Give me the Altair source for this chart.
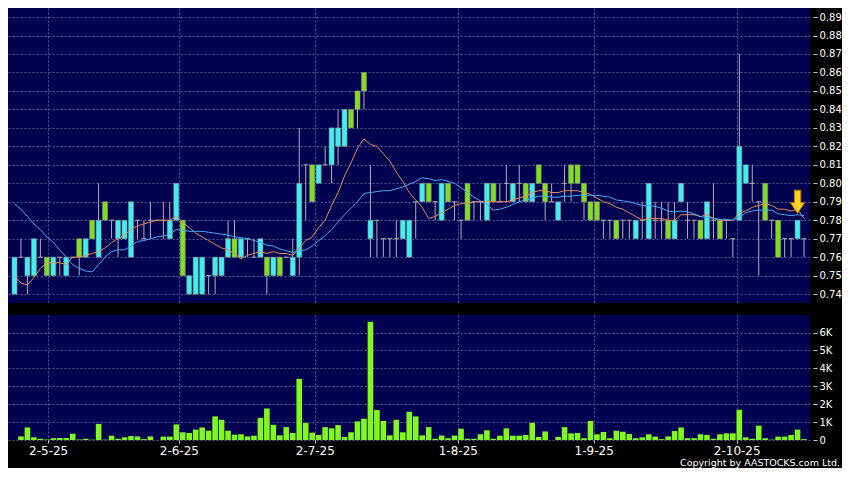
import altair as alt
import pandas as pd

# ---------------- data ----------------
opens = [
    0.74, 0.76, 0.75, 0.75, 0.76, 0.76, 0.75, 0.76, 0.75, 0.76,
    0.77, 0.76, 0.78, 0.76, 0.79, 0.78, 0.77, 0.77, 0.76, 0.78,
    0.77, 0.78, 0.78, 0.78, 0.77, 0.78, 0.78, 0.74, 0.74, 0.74,
    0.75, 0.75, 0.75, 0.76, 0.77, 0.76, 0.77, 0.76, 0.76, 0.76,
    0.75, 0.76, 0.76, 0.75, 0.76, 0.81, 0.81, 0.80, 0.81, 0.81,
    0.82, 0.82, 0.84, 0.85, 0.86, 0.77, 0.78, 0.77, 0.77, 0.77,
    0.77, 0.76, 0.79, 0.79, 0.80, 0.79, 0.78, 0.80, 0.79, 0.78,
    0.80, 0.79, 0.79, 0.78, 0.80, 0.79, 0.80, 0.79, 0.80, 0.80,
    0.79, 0.81, 0.80, 0.79, 0.78, 0.80, 0.81, 0.81, 0.80, 0.79,
    0.79, 0.78, 0.78, 0.78, 0.78, 0.78, 0.77, 0.78, 0.77, 0.78,
    0.78, 0.78, 0.77, 0.79, 0.78, 0.78, 0.78, 0.77, 0.78, 0.78,
    0.78, 0.77, 0.78, 0.80, 0.80, 0.79, 0.80, 0.78, 0.78, 0.77,
    0.77, 0.77, 0.77,
]
highs = [
    0.76, 0.77, 0.76, 0.77, 0.77, 0.76, 0.76, 0.76, 0.76, 0.76,
    0.77, 0.77, 0.78, 0.80, 0.79, 0.78, 0.78, 0.78, 0.79, 0.78,
    0.78, 0.79, 0.78, 0.79, 0.79, 0.80, 0.78, 0.75, 0.76, 0.76,
    0.75, 0.76, 0.76, 0.78, 0.78, 0.77, 0.77, 0.77, 0.77, 0.76,
    0.76, 0.76, 0.76, 0.77, 0.83, 0.81, 0.81, 0.81, 0.82, 0.83,
    0.84, 0.84, 0.84, 0.85, 0.86, 0.81, 0.78, 0.77, 0.77, 0.78,
    0.78, 0.78, 0.79, 0.80, 0.80, 0.79, 0.80, 0.80, 0.79, 0.78,
    0.80, 0.79, 0.79, 0.80, 0.80, 0.80, 0.81, 0.80, 0.81, 0.80,
    0.80, 0.81, 0.80, 0.80, 0.79, 0.81, 0.81, 0.81, 0.80, 0.79,
    0.79, 0.78, 0.78, 0.78, 0.78, 0.78, 0.78, 0.79, 0.80, 0.79,
    0.79, 0.79, 0.79, 0.80, 0.79, 0.78, 0.78, 0.79, 0.80, 0.78,
    0.78, 0.77, 0.87, 0.81, 0.81, 0.79, 0.80, 0.78, 0.78, 0.77,
    0.77, 0.78, 0.77,
]
lows = [
    0.74, 0.76, 0.74, 0.75, 0.76, 0.75, 0.75, 0.75, 0.75, 0.76,
    0.75, 0.76, 0.77, 0.76, 0.78, 0.77, 0.76, 0.77, 0.76, 0.77,
    0.77, 0.77, 0.78, 0.77, 0.77, 0.78, 0.75, 0.74, 0.74, 0.74,
    0.74, 0.74, 0.75, 0.76, 0.76, 0.76, 0.76, 0.76, 0.76, 0.74,
    0.75, 0.75, 0.76, 0.75, 0.75, 0.78, 0.79, 0.80, 0.81, 0.80,
    0.81, 0.82, 0.83, 0.83, 0.84, 0.76, 0.76, 0.76, 0.76, 0.76,
    0.77, 0.76, 0.77, 0.79, 0.79, 0.78, 0.78, 0.79, 0.78, 0.77,
    0.78, 0.78, 0.78, 0.78, 0.79, 0.79, 0.79, 0.79, 0.79, 0.79,
    0.79, 0.80, 0.78, 0.79, 0.78, 0.79, 0.79, 0.80, 0.78, 0.78,
    0.78, 0.77, 0.77, 0.77, 0.77, 0.77, 0.77, 0.77, 0.77, 0.77,
    0.77, 0.77, 0.77, 0.79, 0.77, 0.77, 0.77, 0.77, 0.77, 0.77,
    0.77, 0.76, 0.78, 0.80, 0.79, 0.75, 0.78, 0.77, 0.76, 0.76,
    0.76, 0.77, 0.76,
]
closes = [
    0.76, 0.76, 0.76, 0.77, 0.76, 0.75, 0.76, 0.76, 0.76, 0.76,
    0.76, 0.77, 0.77, 0.78, 0.78, 0.78, 0.78, 0.78, 0.79, 0.78,
    0.77, 0.78, 0.78, 0.78, 0.78, 0.80, 0.75, 0.75, 0.76, 0.76,
    0.75, 0.76, 0.76, 0.77, 0.76, 0.77, 0.77, 0.76, 0.77, 0.75,
    0.76, 0.75, 0.76, 0.76, 0.80, 0.81, 0.79, 0.81, 0.81, 0.83,
    0.83, 0.84, 0.83, 0.84, 0.85, 0.78, 0.78, 0.77, 0.77, 0.77,
    0.78, 0.78, 0.79, 0.80, 0.79, 0.79, 0.80, 0.79, 0.79, 0.78,
    0.78, 0.79, 0.79, 0.80, 0.79, 0.79, 0.80, 0.80, 0.80, 0.79,
    0.80, 0.80, 0.79, 0.79, 0.79, 0.80, 0.80, 0.80, 0.79, 0.78,
    0.78, 0.78, 0.78, 0.77, 0.78, 0.78, 0.78, 0.78, 0.80, 0.78,
    0.78, 0.77, 0.78, 0.80, 0.78, 0.78, 0.77, 0.79, 0.78, 0.77,
    0.78, 0.77, 0.82, 0.81, 0.80, 0.79, 0.78, 0.78, 0.76, 0.77,
    0.77, 0.78, 0.77,
]
volumes_k = [
    0.00, 0.20, 0.70, 0.15, 0.07, 0.03, 0.10, 0.11, 0.11, 0.35,
    0.03, 0.07, 0.02, 0.90, 0.02, 0.24, 0.07, 0.15, 0.22, 0.20,
    0.05, 0.20, 0.00, 0.19, 0.19, 0.87, 0.43, 0.39, 0.58, 0.70,
    0.52, 1.32, 1.13, 0.52, 0.30, 0.32, 0.20, 0.24, 1.24, 1.76,
    0.85, 0.26, 0.72, 0.39, 3.41, 0.95, 0.41, 0.28, 0.72, 0.65,
    0.83, 0.17, 0.43, 1.04, 1.19, 6.60, 1.67, 1.06, 0.26, 1.13,
    0.43, 1.58, 1.32, 0.26, 0.72, 0.07, 0.25, 0.10, 0.25, 0.63,
    0.07, 0.07, 0.32, 0.54, 0.07, 0.24, 0.65, 0.24, 0.24, 0.28,
    0.96, 0.17, 0.48, 0.00, 0.17, 0.72, 0.37, 0.39, 0.10, 1.06,
    0.32, 0.45, 0.10, 0.52, 0.46, 0.33, 0.10, 0.15, 0.32, 0.19,
    0.05, 0.20, 0.50, 0.70, 0.10, 0.10, 0.32, 0.28, 0.07, 0.32,
    0.37, 0.37, 1.69, 0.15, 0.07, 0.80, 0.10, 0.02, 0.19, 0.19,
    0.28, 0.58, 0.05,
]
# moving-average values at the left edge (window not complete)
ma10_head = [0.750, 0.746, 0.745, 0.749, 0.754, 0.757, 0.757, 0.757, 0.756]
ma20_head = [0.789, 0.786, 0.782, 0.778, 0.775, 0.771, 0.768, 0.764, 0.760, 0.756,
             0.754, 0.7525, 0.752, 0.756, 0.760, 0.763, 0.764, 0.764, 0.766]

tick_pos = [5.2, 25.4, 46.4, 68.5, 89.5, 111.6]
tick_labels = ["2-5-25", "2-6-25", "2-7-25", "1-8-25", "1-9-25", "2-10-25"]
price_ticks = [0.74, 0.75, 0.76, 0.77, 0.78, 0.79, 0.80, 0.81, 0.82,
               0.83, 0.84, 0.85, 0.86, 0.87, 0.88, 0.89]
vol_ticks = [0, 1, 2, 3, 4, 5, 6]
signal_idx = [121]
signal_price = [0.790]

# ---------------- tables ----------------
n = len(closes)
assert all(len(a) == n for a in (opens, highs, lows, volumes_k))

cs = pd.Series(closes, dtype=float)
ma10 = cs.rolling(10).mean().tolist()
ma20 = cs.rolling(20).mean().tolist()
ma10[:len(ma10_head)] = ma10_head
ma20[:len(ma20_head)] = ma20_head

df = pd.DataFrame({
    "i": list(range(n)), "open": opens, "high": highs, "low": lows,
    "close": closes, "vol": volumes_k, "ma10": ma10, "ma20": ma20,
})
df["dir"] = ["up" if c > o else ("down" if c < o else "flat")
             for o, c in zip(opens, closes)]
sig = pd.DataFrame({"i": signal_idx, "p": signal_price})

# ---------------- styling ----------------
FONT = "DejaVu Sans"
GRID = "#56569a"
PW = 802
xscale = alt.Scale(domain=[-0.23, 122.15], nice=False, zero=False)
pscale = alt.Scale(domain=[0.7352, 0.8949], nice=False, zero=False)
vscale = alt.Scale(domain=[0, 6.98], nice=False, zero=False)

label_expr = ("[" + ",".join(f"'{t}'" for t in tick_labels) + "][indexof(["
              + ",".join(str(v) for v in tick_pos) + "], datum.value)]")

xaxis_p = alt.Axis(values=tick_pos, grid=True, labels=False, ticks=False,
                   domain=False, title=None)
xaxis_v = alt.Axis(values=tick_pos, grid=True, labels=True, ticks=True,
                   domain=False, title=None, labelExpr=label_expr, tickSize=3,
                   tickColor="#c8c8c8", labelColor="white", labelFontSize=12,
                   labelFont=FONT, labelPadding=2, labelFlush=False)
yaxis_p = alt.Axis(orient="right", values=price_ticks, format=".2f", grid=True,
                   domain=False, title=None, tickSize=4, offset=3, labelPadding=2,
                   tickColor="#c8c8c8", labelColor="white", labelFontSize=10,
                   labelFont=FONT)
yaxis_v = alt.Axis(orient="right", values=vol_ticks, grid=True, domain=False,
                   title=None, tickSize=4, offset=3, labelPadding=2,
                   labelExpr="datum.value == 0 ? '0' : datum.value + 'K'",
                   tickColor="#c8c8c8", labelColor="white", labelFontSize=10,
                   labelFont=FONT)


def PX(f="i"):
    return alt.X(f"{f}:Q", scale=xscale, axis=xaxis_p)


def PY(f):
    return alt.Y(f"{f}:Q", scale=pscale, axis=yaxis_p)


base = alt.Chart(df)

wick = base.mark_rule(color="#b0b0b0", strokeWidth=1, clip=True).encode(
    x=PX(), y=PY("low"), y2="high:Q")

body = base.transform_filter("datum.open != datum.close").mark_bar(
    size=5, stroke="#8c8c8c", strokeWidth=0.6, clip=True).encode(
    x=PX(), y=PY("open"), y2="close:Q",
    color=alt.Color("dir:N", scale=alt.Scale(domain=["up", "down"],
                                             range=["#40f0f0", "#80e020"]),
                    legend=None))

doji = base.transform_filter("datum.open == datum.close").transform_calculate(
    xa="datum.i - 0.38", xb="datum.i + 0.38").mark_rule(
    color="#b0b0b0", strokeWidth=1, clip=True).encode(
    x=PX("xa"), x2="xb:Q", y=PY("open"))

line10 = base.mark_line(color="#e88a55", strokeWidth=1, clip=True).encode(
    x=PX(), y=PY("ma10"))
line20 = base.mark_line(color="#46aaf5", strokeWidth=1, clip=True).encode(
    x=PX(), y=PY("ma20"))

arrow_path = "M-0.28,-1L0.28,-1L0.28,0.08L0.62,0.08L0,1L-0.62,0.08L-0.28,0.08Z"
arrow = alt.Chart(sig).mark_point(
    shape=arrow_path, size=529, filled=True, fill="#ffd21f", stroke="#c07800",
    strokeWidth=1, opacity=1).encode(x=PX(), y=PY("p"))

price = alt.layer(wick, body, doji, line10, line20, arrow).properties(
    width=PW, height=295)

vol = base.mark_bar(size=5.6, color="#82f81e", clip=True).encode(
    x=alt.X("i:Q", scale=xscale, axis=xaxis_v),
    y=alt.Y("vol:Q", scale=vscale, axis=yaxis_v),
).properties(
    width=PW, height=125,
    title=alt.TitleParams("Copyright by AASTOCKS.com Ltd.", orient="bottom",
                          anchor="end", frame="group", dx=30, offset=2,
                          fontSize=9.5, font=FONT, fontWeight="normal",
                          color="white"))

chart = alt.vconcat(price, vol, spacing=12).properties(
    padding=0, background="black"
).configure_view(fill="#000050", strokeWidth=0).configure_axis(
    gridColor=GRID, gridDash=[2, 2], gridWidth=1, gridOpacity=1
)

chart.save("out.html", embed_options={"renderer": "svg", "actions": False})
